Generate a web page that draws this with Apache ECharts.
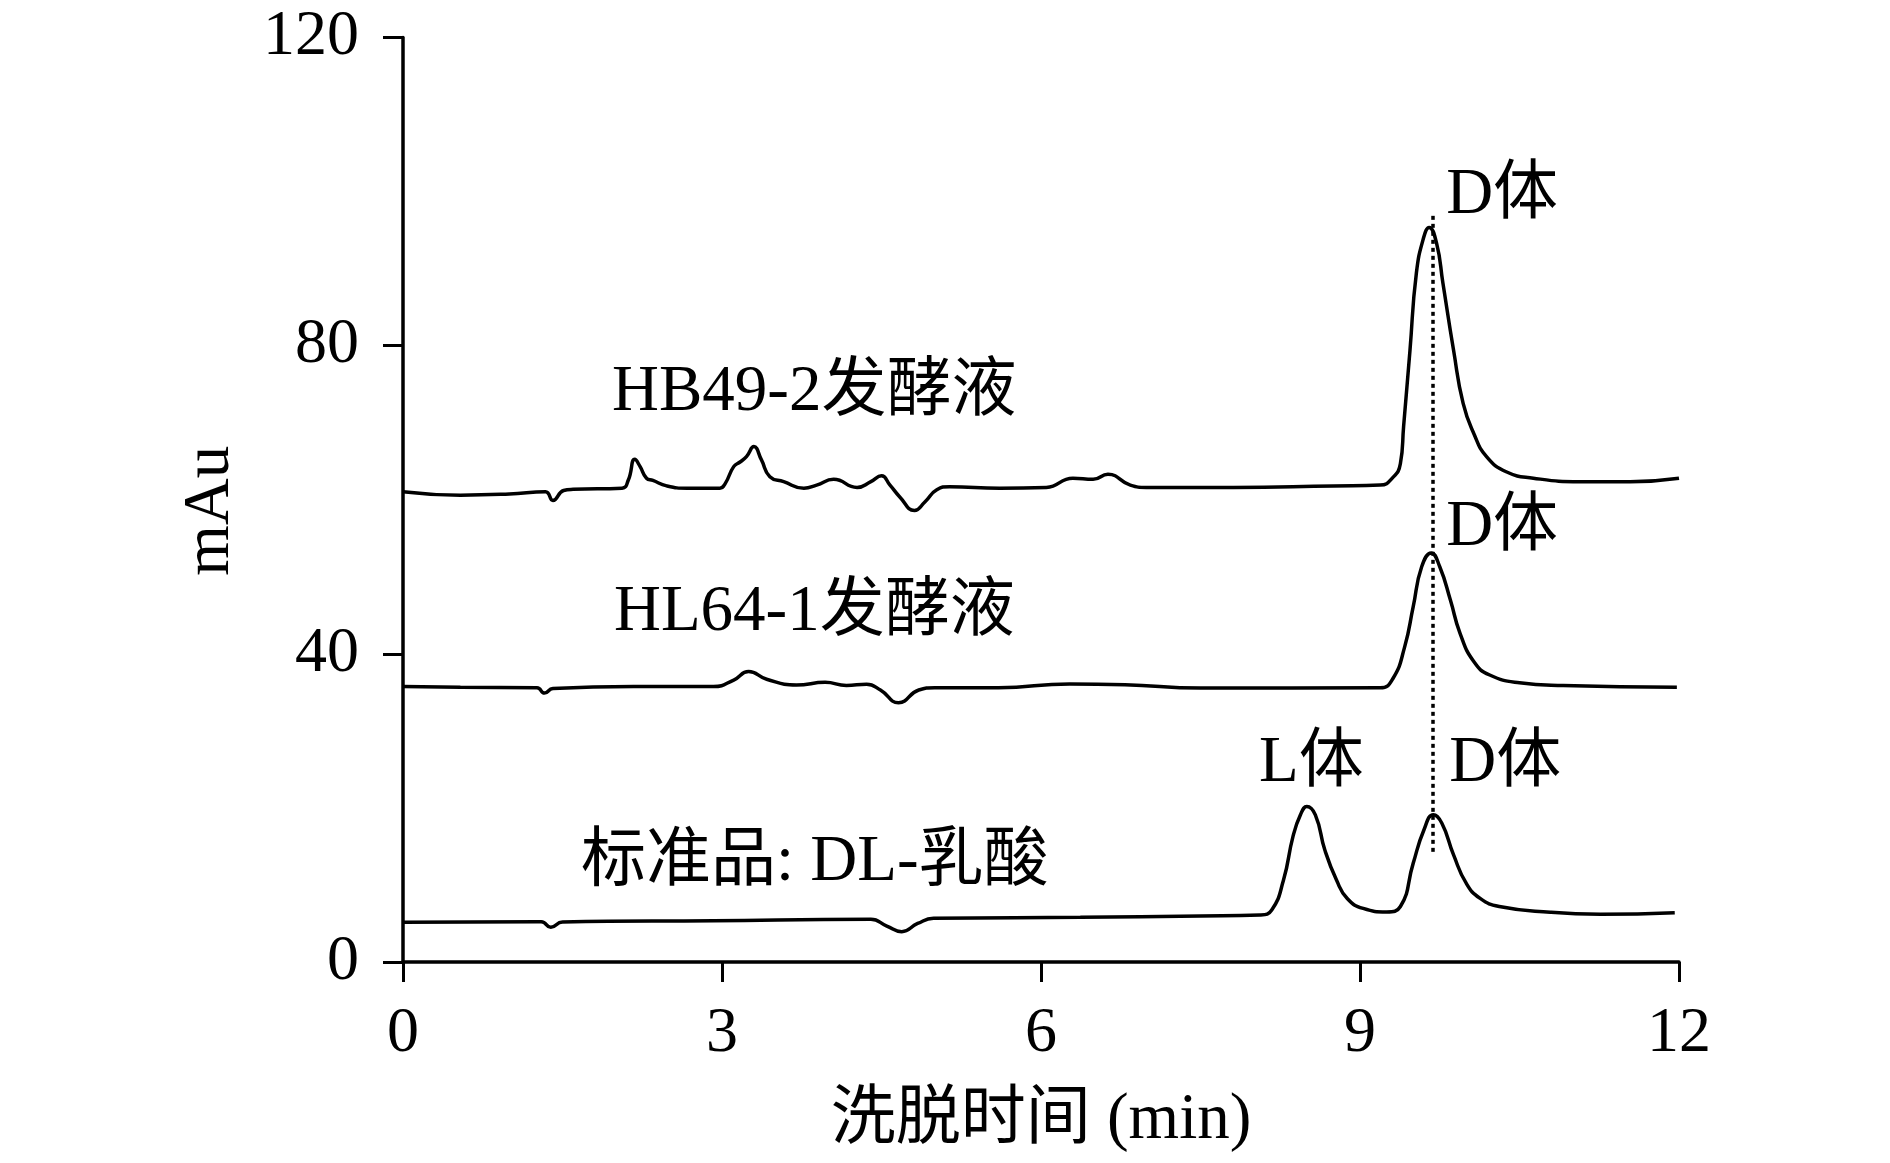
<!DOCTYPE html>
<html>
<head>
<meta charset="utf-8">
<script src="https://cdn.jsdelivr.net/npm/echarts@6/dist/echarts.min.js"></script>
<style>
html,body{margin:0;padding:0;background:#fff;}
#chart{width:1890px;height:1163px;}
</style>
</head>
<body>
<div id="chart"></div>
<script>
// ---- data (time in min, signal in mAu) ----
var xTicks = [0, 3, 6, 9, 12];
var yTicks = [0, 40, 80, 120];

var hbTime = [0.00,0.54,1.00,1.34,1.41,1.51,1.60,2.06,2.12,2.18,2.23,2.29,2.35,2.48,2.67,2.98,3.03,3.11,3.17,3.23,3.30,3.37,3.45,3.58,3.77,3.89,4.05,4.27,4.40,4.50,4.58,4.67,4.81,4.91,5.02,5.14,5.61,6.05,6.30,6.49,6.63,6.84,6.99,7.81,8.75,9.19,9.31,9.38,9.41,9.47,9.53,9.60,9.65,9.72,9.78,9.88,9.97,10.07,10.19,10.38,10.63,11.07,11.54,12.00];
var hbMAu  = [61.05,60.6,60.75,61.05,59.9,61.2,61.35,61.5,62.6,65.25,64.3,62.8,62.5,61.8,61.5,61.5,62.1,64.3,64.9,65.6,66.9,65.2,63.0,62.35,61.5,61.9,62.65,61.6,62.35,63.1,61.9,60.4,58.6,59.75,61.3,61.7,61.5,61.6,62.8,62.65,63.3,61.9,61.6,61.6,61.8,61.9,62.9,64.7,69.5,79.4,89.4,94.1,95.35,93.3,88.1,79.4,72.5,68.6,65.6,63.6,62.8,62.35,62.35,62.8];

var hlTime = [0.00,0.54,1.26,1.33,1.41,2.17,2.92,3.11,3.25,3.42,3.70,3.97,4.17,4.36,4.49,4.66,4.85,5.00,5.60,6.27,6.79,7.50,9.19,9.31,9.42,9.50,9.58,9.67,9.75,9.85,9.94,10.07,10.22,10.50,10.91,11.98];
var hlMAu  = [35.75,35.65,35.6,34.9,35.5,35.75,35.75,36.6,37.7,36.7,35.95,36.3,35.9,36.05,35.3,33.65,35.3,35.6,35.6,36.1,36.0,35.55,35.6,36.8,40.9,46.1,51.3,53.1,51.3,47.0,42.7,39.0,37.25,36.25,35.9,35.65];

var stdTime = [0.00,1.30,1.39,1.50,2.92,4.40,4.55,4.69,4.84,4.99,6.37,7.50,8.06,8.17,8.28,8.37,8.44,8.50,8.58,8.67,8.78,8.88,9.03,9.25,9.38,9.50,9.60,9.69,9.77,9.88,10.00,10.13,10.31,10.79,11.26,11.96];
var stdMAu  = [5.15,5.23,4.5,5.2,5.37,5.54,4.67,3.94,5.0,5.67,5.8,5.97,6.1,6.75,10.6,16.3,19.1,20.2,19.1,14.5,10.6,8.25,6.95,6.5,7.2,12.8,17.1,19.1,18.0,13.9,10.2,8.25,7.2,6.45,6.2,6.4];

// D-form retention reference line (min) and its extent (mAu)
var dLineTime = 9.68;
var dLineRange = [14.3, 97];

// annotation texts and anchor points (time, mAu)
var labelTexts = ['HB49-2发酵液', 'HL64-1发酵液', '标准品: DL-乳酸', 'D体', 'D体', 'L体', 'D体'];
var labelTime  = [1.966, 1.984, 1.674, 9.81, 9.81, 8.05, 9.84];
var labelMAu   = [73.9, 45.3, 12.85, 99.5, 56.4, 25.7, 25.7];

var xName = '洗脱时间 (min)';
var yName = 'mAu';

function zip(a, b) { return a.map(function (v, i) { return [v, b[i]]; }); }

var FONT = "'Liberation Serif', 'Times New Roman', 'Noto Sans CJK SC', serif";

var lineCommon = {
  type: 'line',
  showSymbol: false,
  symbol: 'none',
  smooth: 0.5,
  lineStyle: { color: '#000', width: 3.5, opacity: 1 },
  silent: true,
  z: 3
};

var chart = echarts.init(document.getElementById('chart'), null, { renderer: 'canvas' });
chart.setOption({
  backgroundColor: '#fff',
  animation: false,
  textStyle: { fontFamily: FONT },
  grid: { left: 403, top: 37.5, width: 1276, height: 924.5, containLabel: false },
  xAxis: {
    type: 'value', min: xTicks[0], max: xTicks[xTicks.length - 1], interval: 3,
    name: xName, nameLocation: 'middle', nameGap: 126,
    nameTextStyle: { fontFamily: FONT, fontSize: 65, color: '#000' },
    axisLine: { show: true, onZero: false, lineStyle: { color: '#000', width: 3.5 } },
    axisTick: { show: true, inside: false, length: 20, lineStyle: { color: '#000', width: 3 } },
    axisLabel: { margin: 40, fontFamily: FONT, fontSize: 64, color: '#000' },
    splitLine: { show: false }
  },
  yAxis: {
    type: 'value', min: yTicks[0], max: yTicks[yTicks.length - 1], interval: 40,
    name: yName, nameLocation: 'middle', nameGap: 160, nameRotate: 90,
    nameTextStyle: { fontFamily: FONT, fontSize: 65, color: '#000', padding: [0, 22, 0, 0] },
    axisLine: { show: true, onZero: false, lineStyle: { color: '#000', width: 3.5 } },
    axisTick: { show: true, inside: false, length: 20, lineStyle: { color: '#000', width: 3 } },
    axisLabel: { margin: 44, fontFamily: FONT, fontSize: 64, color: '#000' },
    splitLine: { show: false }
  },
  series: [
    Object.assign({}, lineCommon, { name: 'HB49-2', data: zip(hbTime, hbMAu) }),
    Object.assign({}, lineCommon, { name: 'HL64-1', data: zip(hlTime, hlMAu) }),
    Object.assign({}, lineCommon, {
      name: 'DL-std', data: zip(stdTime, stdMAu),
      markLine: {
        silent: true, symbol: ['none', 'none'], animation: false,
        label: { show: false },
        lineStyle: { color: '#000', width: 3.5, type: [4, 4], opacity: 1 },
        data: [[{ coord: [dLineTime, dLineRange[0]] }, { coord: [dLineTime, dLineRange[1]] }]]
      }
    }),
    {
      type: 'scatter', name: 'labels', symbolSize: 0, silent: true, z: 5,
      itemStyle: { opacity: 1 },
      data: labelTexts.map(function (t, i) { return { value: [labelTime[i], labelMAu[i]], name: t }; }),
      label: {
        show: true, position: 'right', distance: 0, opacity: 1,
        formatter: function (p) { return p.name; },
        fontFamily: FONT, fontSize: 65, color: '#000',
        align: 'left', verticalAlign: 'middle'
      }
    }
  ]
});
</script>
</body>
</html>
